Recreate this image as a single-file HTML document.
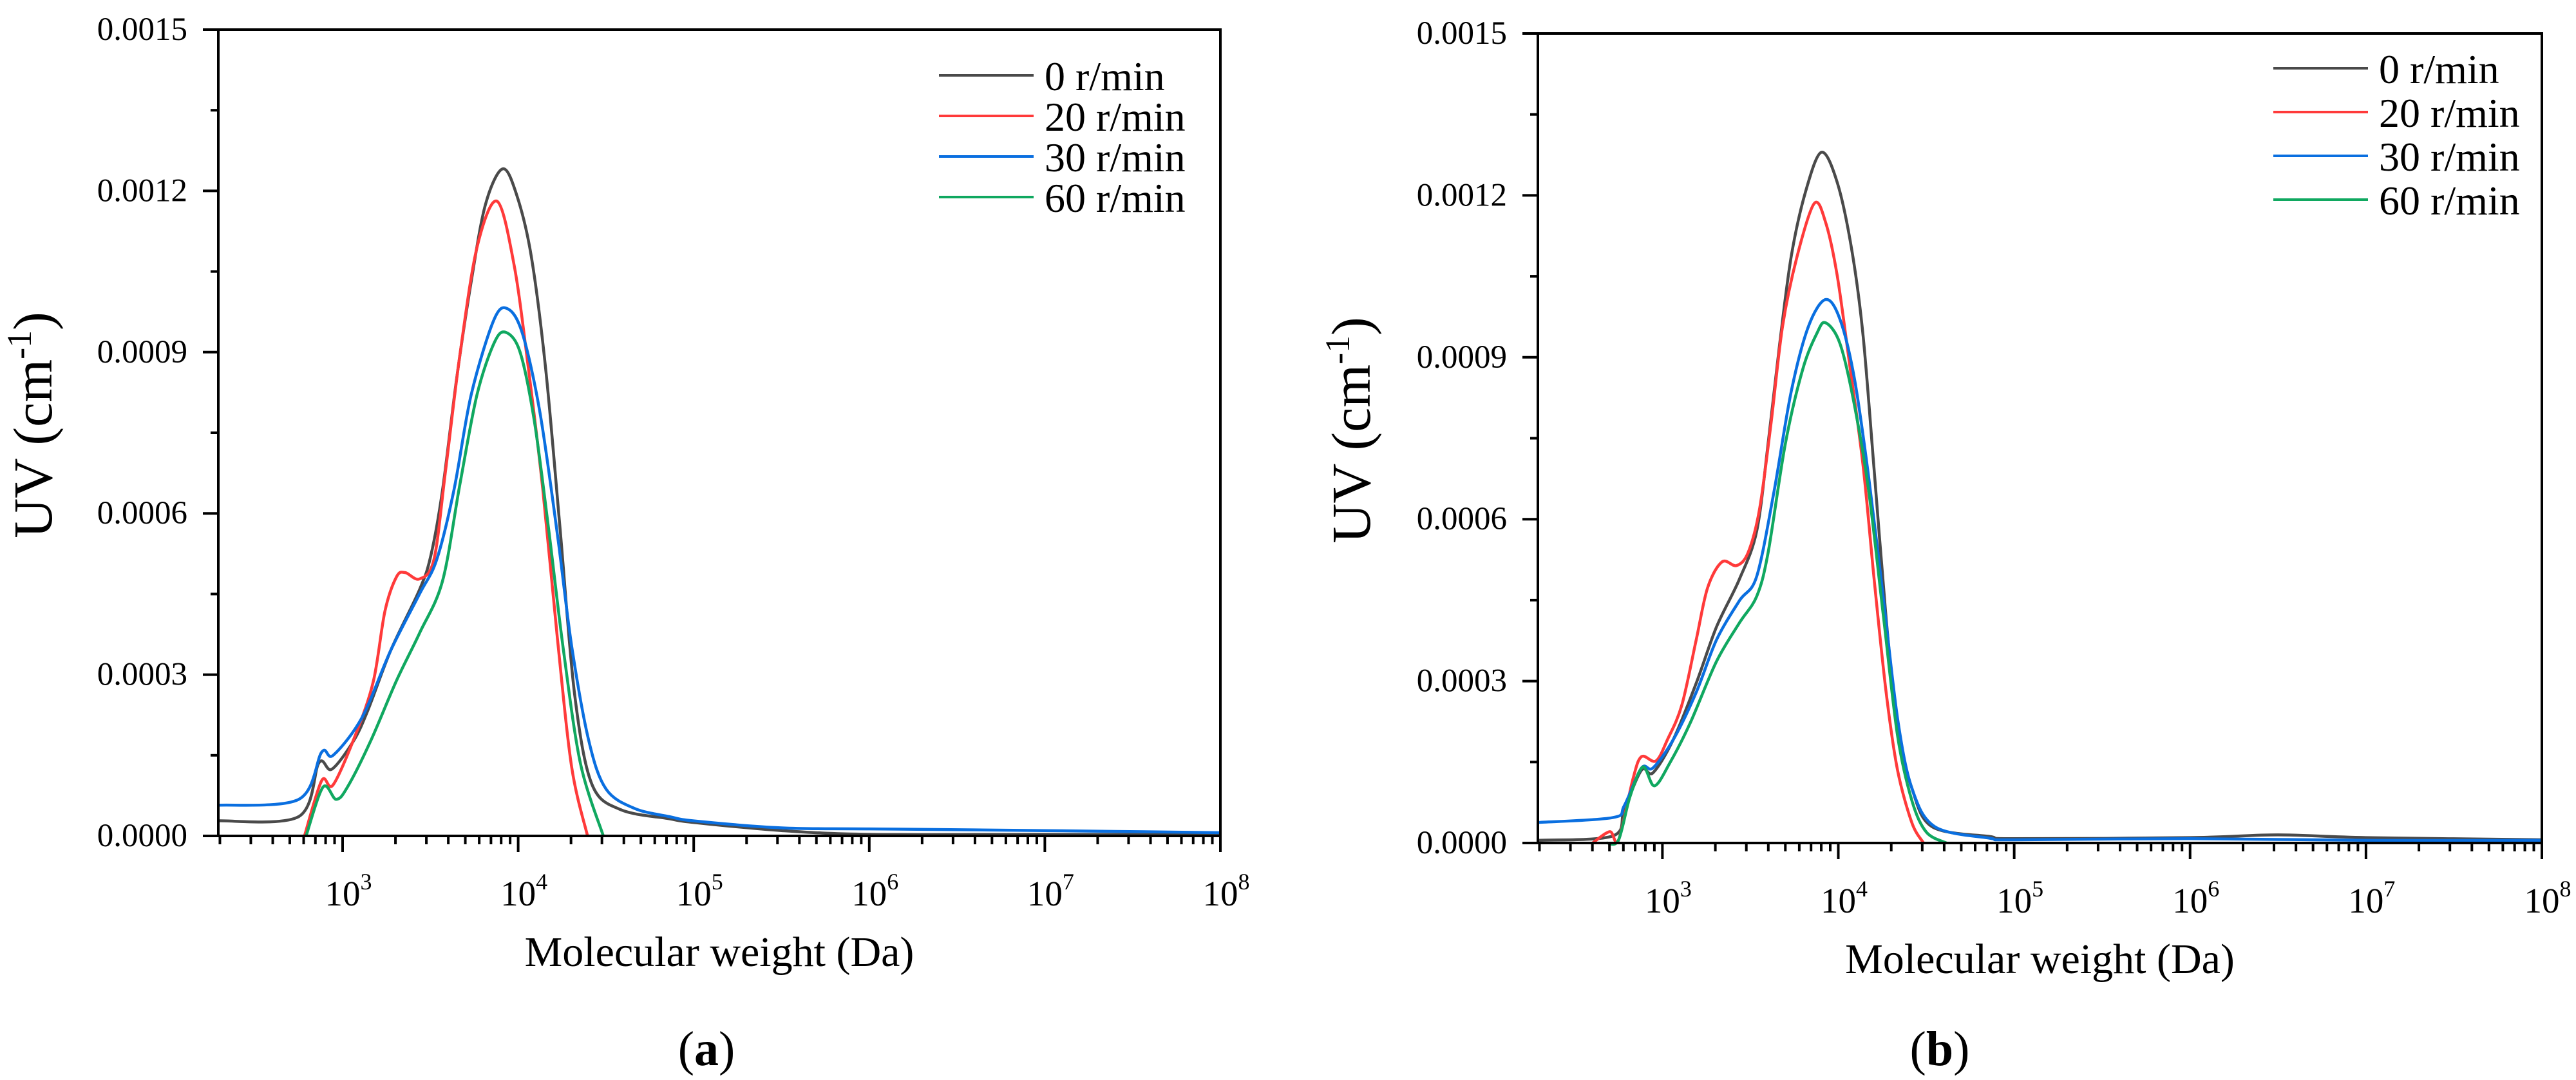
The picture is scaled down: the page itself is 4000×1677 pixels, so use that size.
<!DOCTYPE html>
<html><head><meta charset="utf-8"><style>
html,body{margin:0;padding:0;background:#fff;}
svg{display:block;font-family:"Liberation Serif",serif;}
</style></head><body>
<svg id="fig" width="4000" height="1677" viewBox="0 0 4000 1677" xmlns="http://www.w3.org/2000/svg">
<g id="pa"></g>
<g id="pb"></g>
</svg>
<script>
// ---- data (log10 molecular weight, UV) ----
const seriesNames = ["0 r/min","20 r/min","30 r/min","60 r/min"];
const seriesColors = ["#4a4a4a","#ff3a3a","#0a6fe0","#10a860"];
const yTicks = [0,0.0003,0.0006,0.0009,0.0012,0.0015];
const yTickLabels = ["0.0000","0.0003","0.0006","0.0009","0.0012","0.0015"];
const xDecades = [3,4,5,6,7,8];

// Panel (a)
const aBlackX=[2.292,2.750,2.865,2.938,3.061,3.143,3.274,3.438,3.503,3.569,3.650,3.732,3.814,3.912,3.993,4.075,4.157,4.239,4.321,4.419,4.583,4.860,5.0,5.5,6.0,7.0,8.0];
const aBlackY=[2.8e-5,3.6e-5,1.36e-4,1.24e-4,1.76e-4,2.33e-4,3.45e-4,4.58e-4,5.22e-4,6.43e-4,8.52e-4,1.03e-3,1.175e-3,1.241e-3,1.191e-3,1.078e-3,8.68e-4,5.7e-4,2.65e-4,9.7e-5,4.9e-5,3.2e-5,2.5e-5,1e-5,3e-6,3e-6,2e-6];
const aRedX=[2.783,2.881,2.946,3.078,3.176,3.241,3.307,3.356,3.438,3.520,3.585,3.667,3.765,3.879,3.977,4.059,4.141,4.223,4.305,4.395];
const aRedY=[0,1.03e-4,9.5e-5,1.92e-4,2.89e-4,4.18e-4,4.82e-4,4.9e-4,4.78e-4,5.14e-4,6.76e-4,8.92e-4,1.094e-3,1.181e-3,1.062e-3,8.68e-4,6.43e-4,3.69e-4,1.28e-4,0];
const aBlueX=[2.292,2.750,2.881,2.946,3.110,3.274,3.438,3.536,3.634,3.732,3.863,3.944,4.026,4.124,4.223,4.305,4.403,4.501,4.664,4.860,5.0,5.5,6.0,7.0,8.0];
const aBlueY=[5.7e-5,6.8e-5,1.56e-4,1.5e-4,2.2e-4,3.45e-4,4.5e-4,5.14e-4,6.43e-4,8.2e-4,9.61e-4,9.8e-4,9.33e-4,7.88e-4,5.62e-4,3.53e-4,1.76e-4,8.7e-5,5.1e-5,3.6e-5,2.8e-5,1.5e-5,1.3e-5,1e-5,6e-6];
const aGreenX=[2.792,2.889,2.963,3.028,3.159,3.307,3.438,3.569,3.667,3.765,3.863,3.928,4.010,4.092,4.174,4.255,4.354,4.485];
const aGreenY=[0,9.1e-5,6.8e-5,9.1e-5,1.76e-4,2.89e-4,3.77e-4,4.74e-4,6.52e-4,8.2e-4,9.17e-4,9.37e-4,9.01e-4,7.72e-4,5.7e-4,3.53e-4,1.36e-4,0];

// Panel (b)
const bBlackX=[2.292,2.717,2.783,2.881,2.946,3.061,3.192,3.307,3.438,3.536,3.601,3.667,3.732,3.814,3.904,3.993,4.075,4.141,4.206,4.272,4.337,4.419,4.534,4.860,5.0,6.0,6.5,7.0,8.0];
const bBlackY=[5e-6,1.3e-5,6.2e-5,1.35e-4,1.3e-4,1.91e-4,2.96e-4,4.0e-4,4.89e-4,5.78e-4,7.4e-4,9.25e-4,1.086e-3,1.207e-3,1.28e-3,1.225e-3,1.102e-3,9.4e-4,6.82e-4,4.16e-4,2.15e-4,1.01e-4,3e-5,1.2e-5,8e-6,1e-5,1.5e-5,1e-5,6e-6];
const bRedX=[2.603,2.701,2.750,2.832,2.881,2.963,3.028,3.110,3.192,3.257,3.339,3.421,3.487,3.552,3.618,3.683,3.765,3.863,3.928,3.993,4.059,4.141,4.206,4.272,4.337,4.419,4.485];
const bRedY=[0,2.1e-5,5e-6,1.18e-4,1.6e-4,1.52e-4,1.91e-4,2.55e-4,3.76e-4,4.73e-4,5.21e-4,5.14e-4,5.38e-4,6.18e-4,7.79e-4,9.57e-4,1.086e-3,1.185e-3,1.15e-3,1.053e-3,9.0e-4,6.99e-4,4.81e-4,2.79e-4,1.35e-4,3.7e-5,0];
const bBlueX=[2.292,2.717,2.783,2.881,2.946,3.061,3.192,3.307,3.438,3.536,3.634,3.732,3.830,3.928,4.010,4.092,4.174,4.255,4.337,4.419,4.550,4.860,5.0,6.0,7.0,8.0];
const bBlueY=[3.8e-5,4.7e-5,6.9e-5,1.39e-4,1.39e-4,1.91e-4,2.79e-4,3.76e-4,4.49e-4,4.94e-4,6.5e-4,8.36e-4,9.57e-4,1.007e-3,9.7e-4,8.6e-4,6.75e-4,4.57e-4,2.31e-4,1.01e-4,3e-5,9e-6,6e-6,8e-6,5e-6,5e-6];
const bGreenX=[2.685,2.750,2.816,2.889,2.955,3.045,3.159,3.307,3.438,3.536,3.601,3.699,3.797,3.879,3.928,4.010,4.092,4.174,4.255,4.337,4.419,4.501,4.615];
const bGreenY=[0,5e-6,8.6e-5,1.41e-4,1.06e-4,1.5e-4,2.23e-4,3.36e-4,4.08e-4,4.57e-4,5.38e-4,7.4e-4,8.77e-4,9.45e-4,9.64e-4,9.25e-4,8.11e-4,6.5e-4,4.25e-4,1.99e-4,7.8e-5,2e-5,0];

const NS="http://www.w3.org/2000/svg";
function mk(parent,tag,attrs,text){const e=document.createElementNS(NS,tag);for(const k in attrs)e.setAttribute(k,attrs[k]);if(text!==undefined)e.textContent=text;parent.appendChild(e);return e;}

function smoothPath(pts){
  let d="M"+pts[0][0].toFixed(1)+","+pts[0][1].toFixed(1);
  for(let i=0;i<pts.length-1;i++){
    const p0=pts[i-1]||pts[i],p1=pts[i],p2=pts[i+1],p3=pts[i+2]||p2;
    const t=0.16;
    const c1=[p1[0]+(p2[0]-p0[0])*t,p1[1]+(p2[1]-p0[1])*t];
    const c2=[p2[0]-(p3[0]-p1[0])*t,p2[1]-(p3[1]-p1[1])*t];
    d+="C"+c1[0].toFixed(1)+","+c1[1].toFixed(1)+" "+c2[0].toFixed(1)+","+c2[1].toFixed(1)+" "+p2[0].toFixed(1)+","+p2[1].toFixed(1);
  }
  return d;
}

function drawPanel(g,L,T,R,B,series,legX,legY,legStep,yTitleX,yTitleY,label,letter){
  const xmin=2.292,xmax=8,ymax=0.0015;
  const sx=v=>L+(v-xmin)/(xmax-xmin)*(R-L);
  const sy=v=>B-v/ymax*(B-T);
  series.forEach((s,i)=>{
    const pts=s[0].map((x,j)=>[sx(x),Math.min(B,sy(s[1][j]))]);
    const p=mk(g,"path",{d:smoothPath(pts),fill:"none",stroke:seriesColors[i],"stroke-width":4.5,"stroke-linejoin":"round"});
    
    
  });
  const fr=mk(g,"rect",{x:L,y:T,width:R-L,height:B-T,fill:"none",stroke:"#000","stroke-width":4});
  
  
  yTicks.forEach((v,i)=>{
    const y=sy(v);
    mk(g,"line",{x1:L-24,x2:L,y1:y,y2:y,stroke:"#000","stroke-width":4});
    if(i<yTicks.length-1){const ym=sy(v+0.00015);mk(g,"line",{x1:L-12,x2:L,y1:ym,y2:ym,stroke:"#000","stroke-width":4});}
    const t=mk(g,"text",{x:L-48,y:y+16,"text-anchor":"end","font-size":51},yTickLabels[i]);
    
    
  });
  for(let dec=2;dec<8;dec++){for(let m=2;m<=9;m++){const lv=dec+Math.log10(m);if(lv<xmin)continue;const x=sx(lv);mk(g,"line",{x1:x,x2:x,y1:B,y2:B+13,stroke:"#000","stroke-width":4});}}
  xDecades.forEach(d=>{
    const x=sx(d);
    mk(g,"line",{x1:x,x2:x,y1:B,y2:B+25,stroke:"#000","stroke-width":4});
    const t=mk(g,"text",{x:x+9,y:B+108,"text-anchor":"middle","font-size":55});
    
    
    mk(t,"tspan",{},"10");
    mk(t,"tspan",{dy:-25,"font-size":36},String(d));
  });
  const xt=mk(g,"text",{x:(L+R)/2,y:B+202,"text-anchor":"middle","font-size":66},"Molecular weight (Da)");
  
  
  const yt=mk(g,"text",{x:yTitleX,y:yTitleY,"text-anchor":"middle","font-size":86,transform:"rotate(-90 "+yTitleX+" "+yTitleY+")"});
  
  
  mk(yt,"tspan",{},"UV (cm");
  mk(yt,"tspan",{dy:-32,"font-size":54},"-1");
  mk(yt,"tspan",{dy:32},")");
  seriesNames.forEach((n,i)=>{
    const y=legY+i*legStep;
    const le=mk(g,"g",{});
    
    
    mk(le,"line",{x1:legX,x2:legX+147,y1:y,y2:y,stroke:seriesColors[i],"stroke-width":4});
    mk(le,"text",{x:legX+164,y:y+23,"font-size":64},n);
  });
  const pl=mk(g,"text",{x:label,y:1654,"text-anchor":"middle","font-size":76});
  
  
  mk(pl,"tspan",{},"(");
  mk(pl,"tspan",{"font-weight":"bold"},letter);
  mk(pl,"tspan",{},")");
}
drawPanel(document.getElementById("pa"),339,46,1895,1298,
  [[aBlackX,aBlackY],[aRedX,aRedY],[aBlueX,aBlueY],[aGreenX,aGreenY]],1458,117,63,80,660,1097,"a");
drawPanel(document.getElementById("pb"),2388,52,3947,1309,
  [[bBlackX,bBlackY],[bRedX,bRedY],[bBlueX,bBlueY],[bGreenX,bGreenY]],3530,106,68,2127,668,3012,"b");
</script>
</body></html>
